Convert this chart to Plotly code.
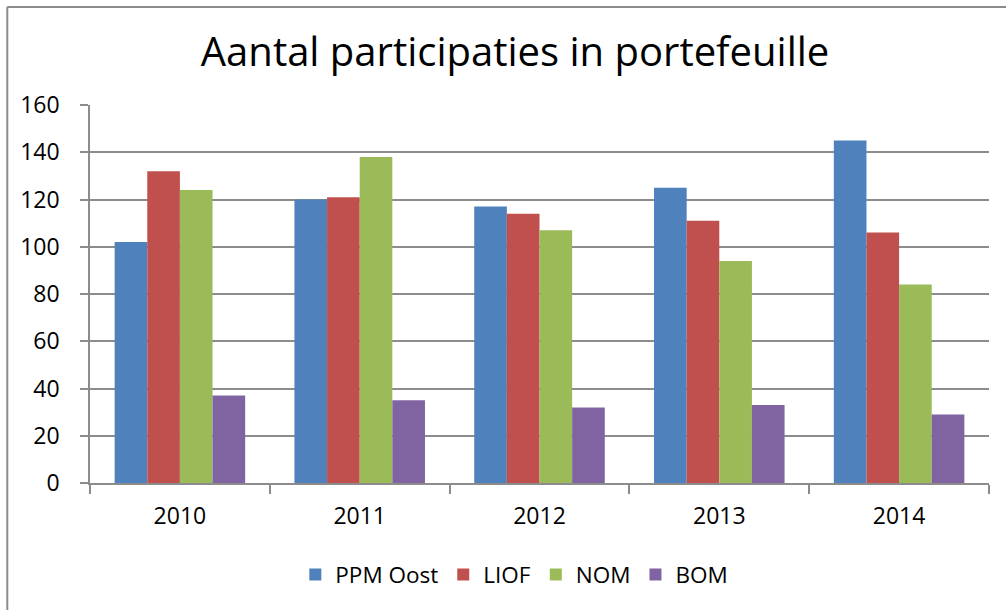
import plotly.graph_objects as go

# chart data
years = ["2010", "2011", "2012", "2013", "2014"]
ppm_oost = [102, 120, 117, 125, 145]
liof = [132, 121, 114, 111, 106]
nom = [124, 138, 107, 94, 84]
bom = [37, 35, 32, 33, 29]

series_names = ["PPM Oost", "LIOF", "NOM", "BOM"]
series_values = [ppm_oost, liof, nom, bom]
series_colors = ["#4F81BD", "#C0504D", "#9BBB59", "#8064A2"]

fig = go.Figure()
for name, vals, col in zip(series_names, series_values, series_colors):
    fig.add_trace(go.Bar(
        x=years, y=vals, name=name,
        marker=dict(color=col, line=dict(width=0)),
    ))

fig.update_layout(
    width=1006, height=610,
    paper_bgcolor="white", plot_bgcolor="white",
    font=dict(family="Open Sans, Liberation Sans, sans-serif", size=22, color="black"),
    title=dict(
        text="Aantal participaties in portefeuille",
        x=0.512, xanchor="center", y=0.915, yanchor="middle",
        font=dict(size=40, color="black"),
    ),
    margin=dict(l=90, r=17, t=105, b=127),
    barmode="group", bargap=0.274, bargroupgap=0,
    legend=dict(
        orientation="h", x=0.472, xanchor="center", y=-0.243, yanchor="middle",
        font=dict(size=22.5), traceorder="normal",
        itemwidth=30, tracegroupgap=0,
    ),
    showlegend=True,
)

fig.update_yaxes(
    range=[0, 160], dtick=20, showgrid=True, gridcolor="#8C8C8C", gridwidth=1.5,
    showline=True, linecolor="#8C8C8C", linewidth=1.5,
    ticks="outside", ticklen=8, tickcolor="#8C8C8C", tickwidth=1.5,
    zeroline=False, ticklabelstandoff=16, tickfont=dict(size=23),
)
fig.update_xaxes(
    showline=True, linecolor="#8C8C8C", linewidth=1.5,
    ticks="outside", ticklen=9, tickcolor="#8C8C8C", tickwidth=1.5,
    tickson="boundaries", showgrid=False, ticklabelstandoff=12,
    tickfont=dict(size=23),
)

# outer chart border (only top and left edges visible in the crop)
fig.add_shape(type="line", xref="paper", yref="paper",
              x0=-0.092, x1=1.03, y0=1.259, y1=1.259,
              line=dict(color="#8C8C8C", width=2))
fig.add_shape(type="line", xref="paper", yref="paper",
              x0=-0.092, x1=-0.092, y0=1.259, y1=-0.35,
              line=dict(color="#8C8C8C", width=2))

fig.write_html("out.html", config={"displayModeBar": False},
               post_script="document.body.style.margin='0';")
